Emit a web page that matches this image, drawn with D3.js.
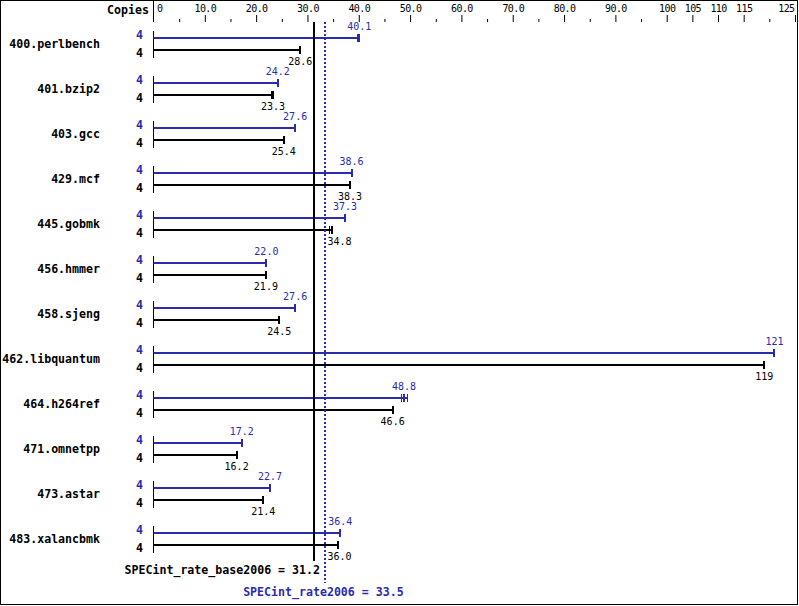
<!DOCTYPE html>
<html><head><meta charset="utf-8">
<script src="https://cdn.jsdelivr.net/npm/d3@7"></script>
<style>
html,body{margin:0;padding:0;background:#fff;}
svg{display:block;}
text{font-family:"DejaVu Sans Mono","Liberation Mono",monospace;}
</style></head>
<body><svg id="c" width="799" height="606"></svg>
<script>
const benchmarks = ["400.perlbench","401.bzip2","403.gcc","429.mcf","445.gobmk","456.hmmer","458.sjeng","462.libquantum","464.h264ref","471.omnetpp","473.astar","483.xalancbmk"];
const copiesPeak = [4,4,4,4,4,4,4,4,4,4,4,4];
const copiesBase = [4,4,4,4,4,4,4,4,4,4,4,4];
const peak = [40.1,24.2,27.6,38.6,37.3,22.0,27.6,121,48.8,17.2,22.7,36.4];
const base = [28.6,23.3,25.4,38.3,34.8,21.9,24.5,119,46.6,16.2,21.4,36.0];
const peakLabels = ["40.1","24.2","27.6","38.6","37.3","22.0","27.6","121","48.8","17.2","22.7","36.4"];
const baseLabels = ["28.6","23.3","25.4","38.3","34.8","21.9","24.5","119","46.6","16.2","21.4","36.0"];
const peakRuns = [[39.6,40.1,40.1],[24.2],[27.6],[38.6],[37.3],[22.0],[27.6],[121],[48.2,48.8,49.4],[17.2],[22.7],[36.4]];
const baseRuns = [[28.6],[22.9,23.3,23.3],[25.4],[38.3],[34.1,34.8,34.8],[21.9],[24.5],[119],[46.6],[16.2],[21.4],[36.0]];
const majorTicks = [0,10,20,30,40,50,60,70,80,90,100,105,110,115,125];
const minorTicks = [5,15,25,35,45,55,65,75,85,95,120];
const tickLabels = ["0","10.0","20.0","30.0","40.0","50.0","60.0","70.0","80.0","90.0","100","105","110","115","125"];
const baseMean = 31.2, peakMean = 33.5;
const baseMeanLabel = "SPECint_rate_base2006 = 31.2";
const peakMeanLabel = "SPECint_rate2006 = 33.5";

const BLUE = "#2b2bad", BLACK = "#000";
const svg = d3.select("#c");
const x = d3.scaleLinear().domain([0,125]).range([153.5,795]);
const y = d3.scalePoint().domain(benchmarks).range([38,38+45*11]);
const off = 12; // base bar offset

// frame
svg.append("rect").attr("x",0.5).attr("y",0.5).attr("width",797).attr("height",604)
  .attr("fill","none").attr("stroke","#000");

// axis zero line at top
svg.append("line").attr("x1",x(0)).attr("x2",x(0)).attr("y1",0).attr("y2",22).attr("stroke","#000");

// top axis major
const axMaj = svg.append("g").attr("transform","translate(0,22)")
  .call(d3.axisTop(x).tickValues(majorTicks).tickSize(7).tickPadding(3)
    .tickFormat((d,i)=>tickLabels[i]));
axMaj.select(".domain").remove();
axMaj.selectAll("text").attr("font-size",10).attr("font-family","DejaVu Sans Mono")
  .attr("letter-spacing","-0.6px").attr("fill","#000");
axMaj.selectAll(".tick").filter(d=>d===0).select("line").remove();
axMaj.selectAll(".tick").filter(d=>d===0).select("text").attr("text-anchor","start").attr("x",3);
axMaj.selectAll(".tick").filter(d=>d===125).select("text").attr("text-anchor","end").attr("x",-1);
axMaj.selectAll("line").attr("stroke","#000");
const axMin = svg.append("g").attr("transform","translate(0,22)")
  .call(d3.axisTop(x).tickValues(minorTicks).tickSize(3).tickFormat(""));
axMin.select(".domain").remove();
axMin.selectAll("line").attr("stroke","#000");

svg.append("text").attr("x",149).attr("y",14).attr("text-anchor","end")
  .attr("font-size",11.6).attr("font-weight","bold").text("Copies");

// rows
const rows = svg.append("g").selectAll("g").data(benchmarks).join("g")
  .attr("transform",d=>`translate(0,${y(d)})`);

rows.append("text").attr("x",100).attr("y",off/2+4).attr("text-anchor","end")
  .attr("font-size",11.6).attr("font-weight","bold").text(d=>d);
rows.append("text").attr("x",143).attr("y",1).attr("text-anchor","end")
  .attr("font-size",11.6).attr("font-weight","bold").attr("fill",BLUE).text((d,i)=>copiesPeak[i]);
rows.append("text").attr("x",143).attr("y",off+7).attr("text-anchor","end")
  .attr("font-size",11.6).attr("font-weight","bold").attr("fill",BLACK).text((d,i)=>copiesBase[i]);

rows.append("line").attr("x1",x(0)).attr("x2",x(0)).attr("y1",-7).attr("y2",off+8).attr("stroke","#000");

function drawBar(g, val, runs, dy, color){
  const mx = d3.max(runs.concat([val]));
  g.append("rect").attr("x",x(0)).attr("y",dy-1).attr("height",2)
    .attr("width",x(mx)-x(0)).attr("fill",color);
  g.selectAll(null).data(runs.filter(v=>v!==val)).join("rect")
    .attr("x",v=>Math.round(x(v))).attr("y",dy-4).attr("width",1).attr("height",8).attr("fill",color);
  g.append("rect").attr("x",Math.round(x(val))-1).attr("y",dy-4).attr("width",2).attr("height",8).attr("fill",color);
}
rows.each(function(d,i){
  const g = d3.select(this);
  drawBar(g, peak[i], peakRuns[i], 0, BLUE);
  drawBar(g, base[i], baseRuns[i], off, BLACK);
});

function labelX(v, txt){
  const c = x(v), half = txt.length*6/2;
  const px = x(peakMean);
  if (c - half < px + 2 && c + half > px - 1 && c > px) return px + 2 + half;
  return c;
}
rows.append("text").attr("x",(d,i)=>labelX(peak[i],peakLabels[i])).attr("y",-8)
  .attr("text-anchor","middle").attr("font-size",10).attr("fill",BLUE).text((d,i)=>peakLabels[i]);
rows.append("text").attr("x",(d,i)=>labelX(base[i],baseLabels[i])).attr("y",off+15)
  .attr("text-anchor","middle").attr("font-size",10).attr("fill",BLACK).text((d,i)=>baseLabels[i]);

// mean lines
svg.append("line").attr("x1",Math.round(x(baseMean))).attr("x2",Math.round(x(baseMean)))
  .attr("y1",22).attr("y2",561).attr("stroke","#000").attr("stroke-width",2);
svg.append("line").attr("x1",Math.round(x(peakMean))).attr("x2",Math.round(x(peakMean)))
  .attr("y1",22).attr("y2",583).attr("stroke",BLUE).attr("stroke-width",2).attr("stroke-dasharray","2,2");

svg.append("text").attr("x",Math.round(x(baseMean))+6).attr("y",574).attr("text-anchor","end")
  .attr("font-size",11.6).attr("font-weight","bold").text(baseMeanLabel);
svg.append("text").attr("x",x(peakMean)-2).attr("y",596).attr("text-anchor","middle")
  .attr("font-size",11.6).attr("font-weight","bold").attr("fill",BLUE).text(peakMeanLabel);
</script></body></html>
